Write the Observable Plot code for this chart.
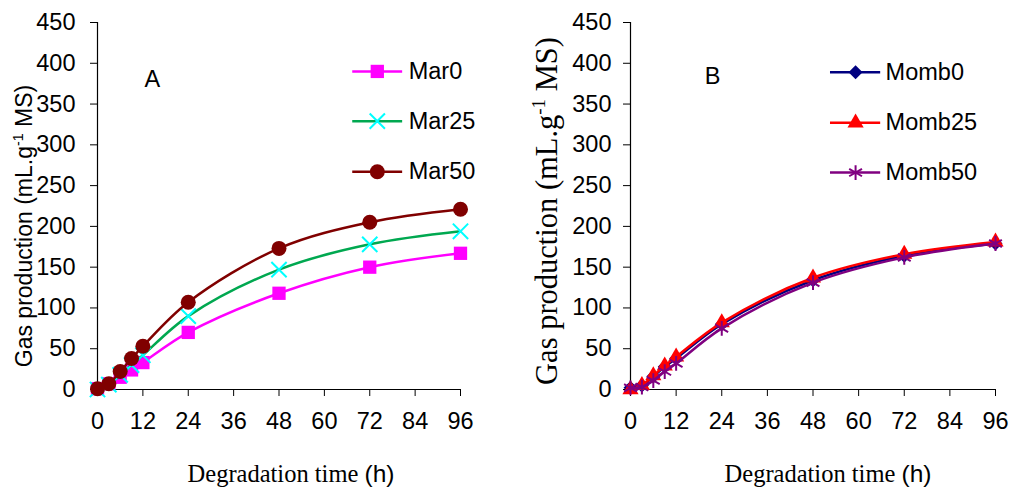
<!DOCTYPE html>
<html><head><meta charset="utf-8">
<script src="https://cdn.jsdelivr.net/npm/d3@7"></script>
<script src="https://cdn.jsdelivr.net/npm/@observablehq/plot@0.6"></script>
<style>
body{margin:0;background:#fff;}
#wrap{display:flex;width:1012px;height:490px;}
#wrap svg{display:block;}
</style></head><body><div id="wrap"></div>
<script>
const hours = [0, 3, 6, 9, 12, 24, 48, 72, 96];
const xTicks = [0, 12, 24, 36, 48, 60, 72, 84, 96];
const yTicks = [0, 50, 100, 150, 200, 250, 300, 350, 400, 450];

const namesA = ["Mar0", "Mar25", "Mar50"];
const mar0  = [1, 7, 15, 24, 33, 70, 118, 150, 167];
const mar25 = [0, 6, 18, 30, 42, 90, 147, 178, 194];
const mar50 = [1, 7, 22, 38, 53, 107, 173, 205, 221];

const namesB = ["Momb0", "Momb25", "Momb50"];
const momb0  = [2, 5, 16, 28, 38, 80, 134, 164, 179];
const momb25 = [0, 5, 17, 29, 40, 82, 137, 166, 181];
const momb50 = [2, 3, 11, 22, 32, 75, 131, 162, 179];

const styleA = [
  {line: "#FF00FF", color: "#FF00FF", symbol: "square", r: 7.5, filled: true},
  {line: "#00A850", color: "#00FFFF", symbol: "times", r: 7, filled: false},
  {line: "#800000", color: "#800000", symbol: "circle", r: 7.5, filled: true}
];
const styleB = [
  {line: "#000080", color: "#000080", symbol: "diamond2", r: 6.3, filled: true},
  {line: "#FF0000", color: "#FF0000", symbol: "triangle", r: 6, filled: true},
  {line: "#800080", color: "#800080", symbol: "asterisk", r: 7, filled: false}
];

const SANS = "'Liberation Sans', Arial, sans-serif";
const SERIF = "'Liberation Serif', 'Times New Roman', serif";

function seriesMarks(values, styles) {
  const marks = [];
  values.forEach((vals, i) => {
    const s = styles[i];
    const data = hours.map((h, j) => ({h, v: vals[j]}));
    marks.push(Plot.line(data, {x: "h", y: "v", stroke: s.line, strokeWidth: 2.5, curve: "catmull-rom"}));
    marks.push(Plot.dot(data, {x: "h", y: "v", symbol: s.symbol, r: s.r,
      fill: s.filled ? s.color : "none", stroke: s.filled ? "none" : s.color, strokeWidth: 2}));
  });
  return marks;
}

function legendMarks(names, styles, lay) {
  const rows = names.map((name, i) => ({name, y: lay.ys[i], x1: lay.x1, x2: lay.x2, xm: lay.xm, xt: lay.xt}));
  const marks = [];
  rows.forEach((row, i) => {
    const s = styles[i];
    marks.push(Plot.ruleY([row], {y: "y", x1: "x1", x2: "x2", stroke: s.line, strokeWidth: 2.5}));
    marks.push(Plot.dot([row], {x: "xm", y: "y", symbol: s.symbol, r: s.r,
      fill: s.filled ? s.color : "none", stroke: s.filled ? "none" : s.color, strokeWidth: 2}));
  });
  marks.push(Plot.text(rows, {x: "xt", y: "y", text: "name", textAnchor: "start", lineAnchor: "middle", fontSize: 23.5, fontFamily: SANS}));
  return marks;
}

function panel(cfg) {
  const svg = Plot.plot({
    width: cfg.width, height: 490,
    marginLeft: cfg.ml, marginRight: cfg.mr, marginTop: 22, marginBottom: 101,
    x: {domain: [0, 96]},
    y: {domain: [0, 450]},
    style: {fontFamily: SANS, fontSize: "23.5px", color: "#000", background: "#fff", overflow: "visible"},
    marks: [
      Plot.axisX({ticks: xTicks, tickSize: 7, tickPadding: 16, label: null, fontSize: 23.5, fontFamily: SANS}),
      Plot.axisY({ticks: yTicks, tickSize: 7, tickPadding: cfg.ypad, label: null, fontSize: 23.5, fontFamily: SANS}),
      Plot.ruleX([0], {stroke: "#000", strokeWidth: 1.2}),
      Plot.ruleY([0], {stroke: "#000", strokeWidth: 1.2}),
      ...seriesMarks(cfg.values, cfg.styles),
      ...legendMarks(cfg.names, cfg.styles, cfg.legend),
      Plot.text([cfg.tag], {x: cfg.tagX, y: cfg.tagY, text: d => d, fontSize: 23.5, fontFamily: SANS, lineAnchor: "middle"})
    ]
  });
  const s = d3.select(svg);
  const yt = s.append("text")
    .attr("transform", `translate(${cfg.ytx},${cfg.yty}) rotate(-90)`)
    .attr("text-anchor", "middle")
    .attr("font-family", cfg.ytFont)
    .attr("font-size", cfg.ytSize)
    .attr("fill", "#000");
  yt.append("tspan").text("Gas production (mL.g");
  yt.append("tspan").attr("font-size", cfg.ytSize * 0.62).attr("dy", -cfg.ytSize * 0.38).text("-1");
  yt.append("tspan").attr("dy", cfg.ytSize * 0.38).text(" MS)");
  const xt = s.append("text")
    .attr("x", cfg.xtx).attr("y", 482)
    .attr("text-anchor", "middle")
    .attr("font-size", 24.5)
    .attr("fill", "#000");
  xt.append("tspan").attr("font-family", SERIF).text("Degradation time ");
  xt.append("tspan").attr("font-family", SANS).text("(h)");
  return svg;
}

const wrap = document.getElementById("wrap");
wrap.appendChild(panel({
  width: 506, ml: 97, mr: 46, ypad: 15,
  values: [mar0, mar25, mar50], styles: styleA, names: namesA,
  legend: {x1: 67.5, x2: 80.7, xm: 74, xt: 82.3, ys: [390, 329, 267]},
  tag: "A", tagX: 14.5, tagY: 380,
  ytx: 32, yty: 226, ytFont: SANS, ytSize: 23,
  xtx: 291
}));
wrap.appendChild(panel({
  width: 506, ml: 124, mr: 17, ypad: 12,
  values: [momb0, momb25, momb50], styles: styleB, names: namesB,
  legend: {x1: 52.6, x2: 65.8, xm: 59.2, xt: 67.1, ys: [389, 327, 266]},
  tag: "B", tagX: 21.6, tagY: 384,
  ytx: 51, yty: 211, ytFont: SERIF, ytSize: 30.5,
  xtx: 322
}));
</script>
</body></html>
